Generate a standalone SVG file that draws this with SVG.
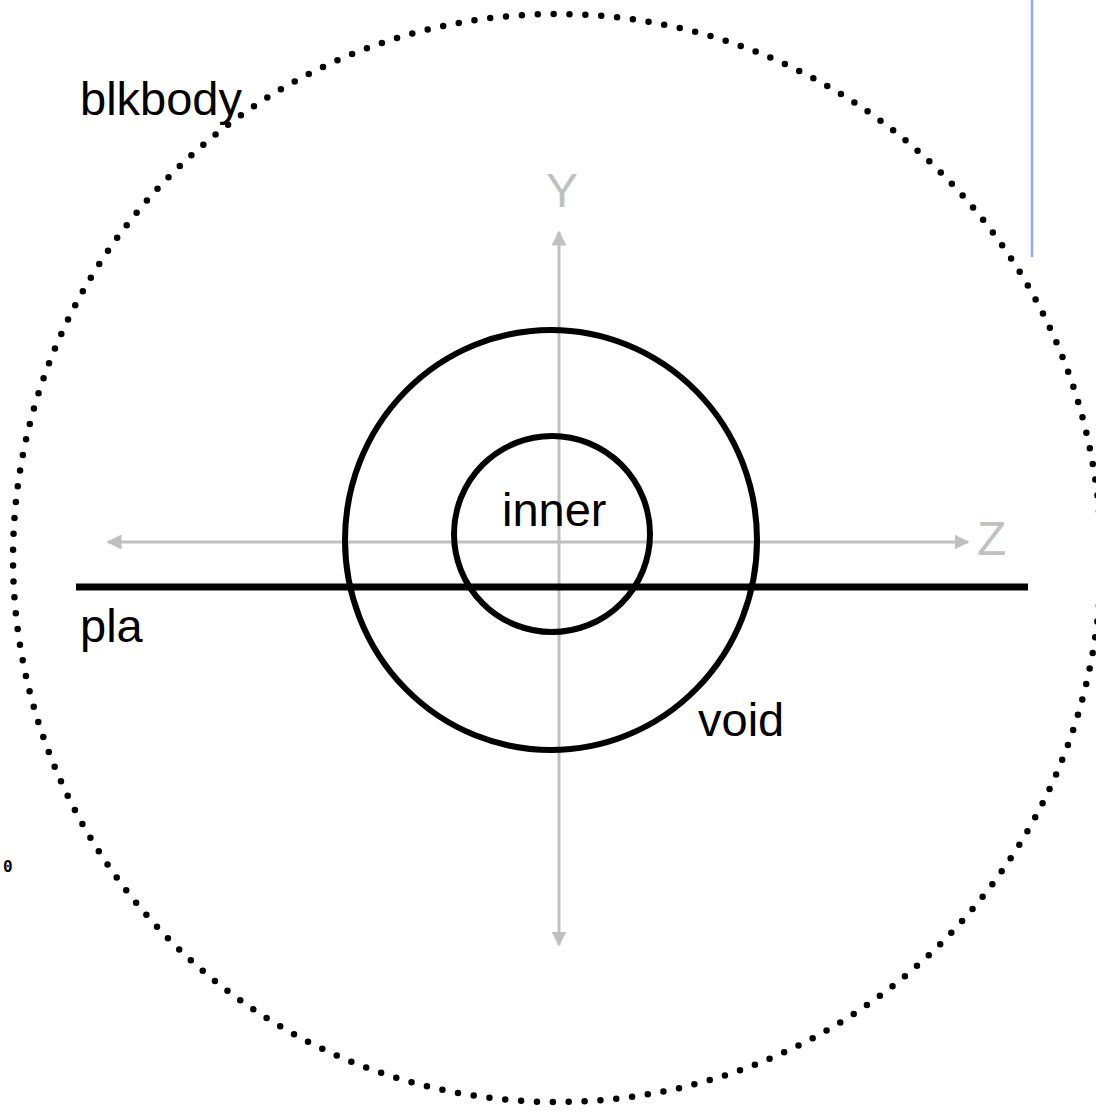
<svg xmlns="http://www.w3.org/2000/svg" width="1096" height="1112" viewBox="0 0 1096 1112">
<style>
.lbl{font-family:"Liberation Sans",Arial,sans-serif;font-size:47px;fill:#000}
.ax{font-family:"Liberation Sans",Arial,sans-serif;font-size:48px;fill:#c0c0c0}
.axis{stroke:#c0c0c0;stroke-width:3;fill:none}
.ring{stroke:#000;stroke-width:6;fill:none}
</style>
<defs>
<marker id="ah" viewBox="0 0 10 10" refX="9" refY="5" markerWidth="5" markerHeight="5" orient="auto-start-reverse" markerUnits="strokeWidth">
<path d="M0,0 L10,5 L0,10 Z" fill="#c0c0c0"/>
</marker>
</defs>
<rect width="1096" height="1112" fill="#fff"/>
<line x1="1032" y1="0" x2="1032" y2="257" stroke="#90a8f5" stroke-width="2.5"/>
<text x="3" y="872" font-family="DejaVu Sans Mono,monospace" font-weight="bold" font-size="16" fill="#000">0</text>
<g id="blkbody">
<circle cx="557" cy="558" r="544" fill="none" stroke="#000" stroke-width="6.5" stroke-linecap="round" stroke-dasharray="0 15.9"/>
<text class="lbl" x="80" y="115">blkbody</text>
</g>
<g id="axes">
<line class="axis" x1="559" y1="945" x2="559" y2="232" marker-end="url(#ah)" marker-start="url(#ah)"/>
<line class="axis" x1="108" y1="542" x2="968" y2="542" marker-end="url(#ah)" marker-start="url(#ah)"/>
<text class="ax" x="546" y="207">Y</text>
<text class="ax" x="977" y="555">Z</text>
</g>
<g id="void">
<ellipse class="ring" cx="551" cy="540" rx="206" ry="210"/>
<text class="lbl" x="698" y="736">void</text>
</g>
<g id="inner">
<circle class="ring" cx="552" cy="534" r="98"/>
<text class="lbl" x="502" y="526">inner</text>
</g>
<g id="pla">
<line x1="76" y1="587" x2="1028" y2="587" stroke="#000" stroke-width="7"/>
<text class="lbl" x="80" y="642">pla</text>
</g>
</svg>
